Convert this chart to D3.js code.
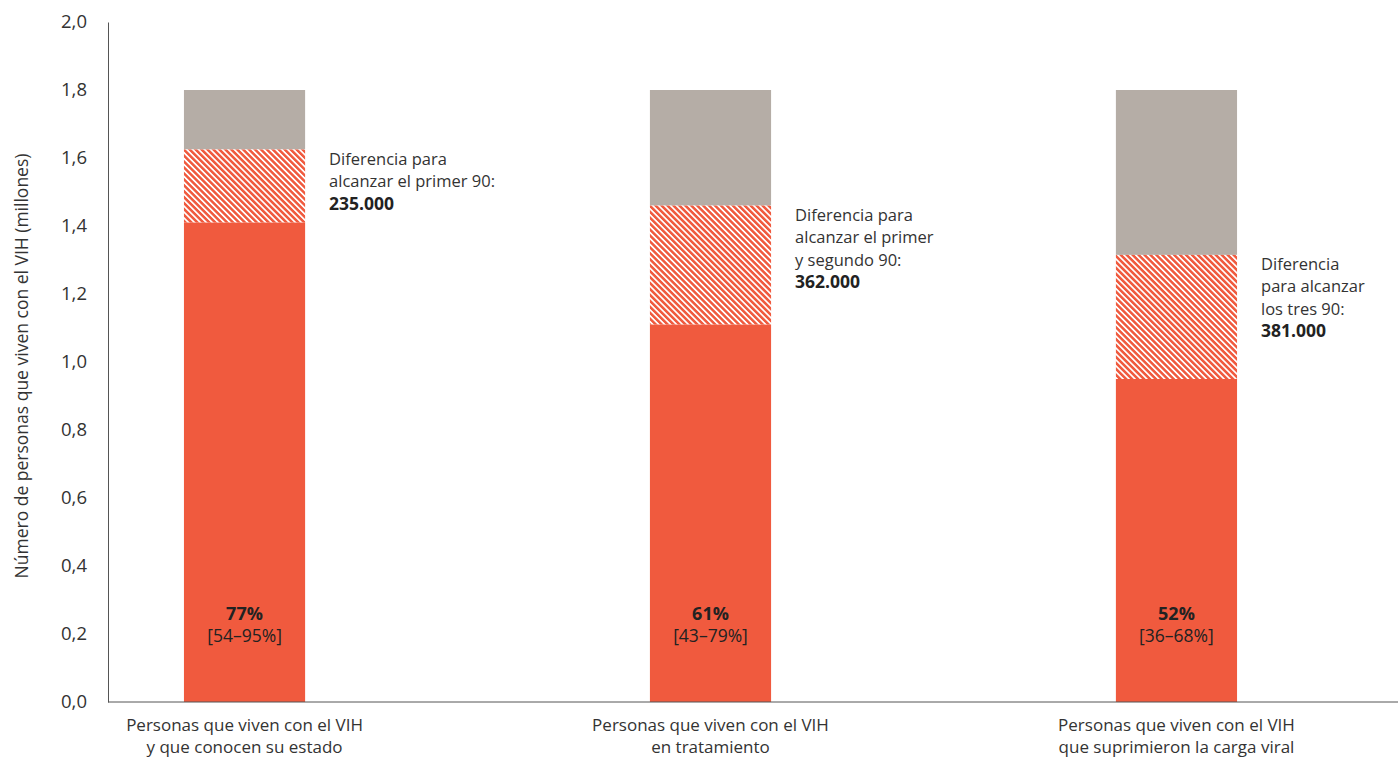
<!DOCTYPE html>
<html>
<head>
<meta charset="utf-8">
<script src="https://cdn.jsdelivr.net/npm/d3@7"></script>
<style>
  body { margin: 0; background: #fff; }
  text { font-family: "Open Sans", Lato, sans-serif; fill: #333; }
</style>
</head>
<body>
<svg></svg>
<script>
// data (millions)
const categories = [
  ["Personas que viven con el VIH", "y que conocen su estado"],
  ["Personas que viven con el VIH", "en tratamiento"],
  ["Personas que viven con el VIH", "que suprimieron la carga viral"]
];
const reached = [1.41, 1.11, 0.95];
const gap = [0.215, 0.35, 0.365];
const total = [1.8, 1.8, 1.8];
const pct = ["77%", "61%", "52%"];
const ranges = ["[54–95%]", "[43–79%]", "[36–68%]"];
const notes = [
  ["Diferencia para", "alcanzar el primer 90:", "235.000"],
  ["Diferencia para", "alcanzar el primer", "y segundo 90:", "362.000"],
  ["Diferencia", "para alcanzar", "los tres 90:", "381.000"]
];
const yTicks = [0, 0.2, 0.4, 0.6, 0.8, 1.0, 1.2, 1.4, 1.6, 1.8, 2.0];

const red = "#f05a3e";
const grey = "#b5ada6";

const svg = d3.select("svg").attr("width", 1398).attr("height", 758);

const margin = { top: 22, right: 0, bottom: 56, left: 108 };
const graphWidth = 1398 - margin.left - margin.right;
const graphHeight = 758 - margin.top - margin.bottom;

// hatch pattern
const defs = svg.append("defs");
const pat = defs.append("pattern")
  .attr("id", "hatch")
  .attr("patternUnits", "userSpaceOnUse")
  .attr("width", 4.2)
  .attr("height", 4.2)
  .attr("patternTransform", "rotate(-45)");
pat.append("rect").attr("width", 4.2).attr("height", 4.2).attr("fill", "#fff");
pat.append("rect").attr("width", 2.5).attr("height", 4.2).attr("fill", red);

const graph = svg.append("g")
  .attr("transform", `translate(${margin.left}, ${margin.top})`);

const x = d3.scaleBand()
  .domain(d3.range(categories.length))
  .range([0, 1205])
  .paddingInner(0.74)
  .paddingOuter(0.163);

const y = d3.scaleLinear().domain([0, 2]).range([graphHeight, 0]);

const idx = d3.range(categories.length);

// grey (total)
graph.selectAll(".tot").data(idx).enter().append("rect")
  .attr("x", (i) => x(i))
  .attr("width", x.bandwidth())
  .attr("y", (i) => y(total[i]))
  .attr("height", (i) => y(reached[i] + gap[i]) - y(total[i]))
  .attr("fill", grey);

// hatched gap
graph.selectAll(".gap").data(idx).enter().append("rect")
  .attr("x", (i) => x(i))
  .attr("width", x.bandwidth())
  .attr("y", (i) => y(reached[i] + gap[i]))
  .attr("height", (i) => y(reached[i]) - y(reached[i] + gap[i]))
  .attr("fill", "url(#hatch)");

// reached
graph.selectAll(".reach").data(idx).enter().append("rect")
  .attr("x", (i) => x(i))
  .attr("width", x.bandwidth())
  .attr("y", (i) => y(reached[i]))
  .attr("height", (i) => graphHeight - y(reached[i]))
  .attr("fill", red);

// labels inside bars
graph.selectAll(".pct").data(idx).enter().append("text")
  .attr("x", (i) => x(i) + x.bandwidth() / 2)
  .attr("y", y(0.2) - 14)
  .attr("text-anchor", "middle")
  .style("font-size", "18px")
  .style("font-weight", "bold")
  .style("fill", "#222")
  .text((i) => pct[i]);
graph.selectAll(".rng").data(idx).enter().append("text")
  .attr("x", (i) => x(i) + x.bandwidth() / 2)
  .attr("y", y(0.2) + 8)
  .attr("text-anchor", "middle")
  .style("font-size", "17.5px")
  .style("fill", "#222")
  .text((i) => ranges[i]);

// notes next to the hatched part
idx.forEach((i) => {
  const t = graph.append("text")
    .attr("x", x(i) + x.bandwidth() + 24)
    .attr("y", y(reached[i] + gap[i]) + 15);
  notes[i].forEach((line, j) => {
    const last = j === notes[i].length - 1;
    t.append("tspan")
      .attr("x", x(i) + x.bandwidth() + 24)
      .attr("dy", j === 0 ? 0 : 22.5)
      .style("font-size", last ? "17.5px" : "16.5px")
      .style("font-weight", last ? "bold" : "normal")
      .style("fill", last ? "#222" : "#333")
      .text(line);
  });
});

// axes
const yAxis = d3.axisLeft(y)
  .tickValues(yTicks)
  .tickSize(0)
  .tickPadding(21)
  .tickFormat((d) => d3.format(".1f")(d).replace(".", ","));
const yAxisGroup = graph.append("g").call(yAxis);
yAxisGroup.select(".domain").attr("stroke", "#555");
yAxisGroup.selectAll("text")
  .style("font-size", "18.5px")
  .style("font-family", "'Open Sans', Lato, sans-serif")
  .attr("fill", "#333");

graph.append("line")
  .attr("x1", 0).attr("x2", graphWidth)
  .attr("y1", graphHeight).attr("y2", graphHeight)
  .attr("stroke", "#555");

const xAxisGroup = graph.append("g")
  .attr("transform", `translate(0, ${graphHeight})`)
  .call(d3.axisBottom(x).tickSize(0).tickFormat(""));
xAxisGroup.select(".domain").remove();
xAxisGroup.selectAll(".tick").each(function (i) {
  const t = d3.select(this).append("text")
    .attr("text-anchor", "middle")
    .attr("y", 29)
    .style("font-size", "17px")
    .attr("fill", "#333");
  categories[i].forEach((line, j) => {
    t.append("tspan").attr("x", 0).attr("dy", j === 0 ? 0 : 22).text(line);
  });
});

// y title
svg.append("text")
  .attr("transform", `translate(28, ${margin.top + graphHeight / 2 + 4}) rotate(-90)`)
  .attr("text-anchor", "middle")
  .style("font-size", "17.5px")
  .text("Número de personas que viven con el VIH (millones)");
</script>
</body>
</html>
